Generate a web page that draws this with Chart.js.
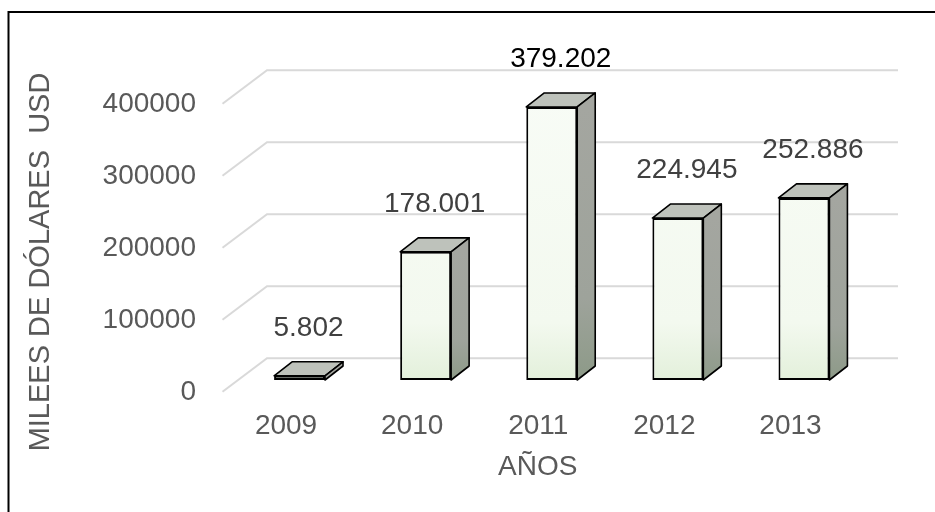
<!DOCTYPE html>
<html lang="es">
<head>
<meta charset="utf-8">
<title>Miles de dólares por año</title>
<script src="https://cdn.jsdelivr.net/npm/chart.js@4.4.1/dist/chart.umd.min.js"></script>
<style>
  html, body { margin: 0; padding: 0; background: #ffffff; }
  #contenedor { position: relative; width: 935px; height: 512px; }
</style>
</head>
<body>
<div id="contenedor"><canvas id="chart-montos"></canvas></div>
<script>
// Datos del gráfico
const anios = ['2009', '2010', '2011', '2012', '2013'];
const montos = [5802, 178001, 379202, 224945, 252886];
const ticksEje = [0, 100000, 200000, 300000, 400000];

// Profundidad del efecto 3D en píxeles
const PROF_X = 18;
const PROF_Y = -14;
const FUENTE = "'Liberation Sans', Arial, sans-serif";
const GRIS_TEXTO = '#595959';

Chart.defaults.font.family = FUENTE;

// 379202 -> "379.202"
function formatoMiles(valor) {
  return String(valor).replace(/\B(?=(\d{3})+(?!\d))/g, '.');
}

// Fondo blanco y marco negro (solo arriba e izquierda quedan dentro)
const fondoYMarco = {
  id: 'fondoYMarco',
  beforeDraw(chart) {
    const ctx = chart.ctx;
    ctx.save();
    ctx.fillStyle = '#ffffff';
    ctx.fillRect(0, 0, chart.width, chart.height);
    ctx.strokeStyle = '#000000';
    ctx.lineWidth = 2;
    ctx.strokeRect(8.5, 12, chart.width + 20, chart.height + 20);
    ctx.restore();
  }
};

// Cuadrícula en la pared del fondo + diagonal del piso, y caras 3D de las barras
const pared3d = {
  id: 'pared3d',
  beforeDatasetsDraw(chart) {
    const ctx = chart.ctx;
    const area = chart.chartArea;
    const ejeY = chart.scales.y;
    ctx.save();

    // líneas de la cuadrícula
    ctx.strokeStyle = '#d9d9d9';
    ctx.lineWidth = 2;
    ejeY.ticks.forEach(t => {
      const y = ejeY.getPixelForValue(t.value);
      const yFondo = y - 21.7;
      const xFondo = area.left + 30.5;
      ctx.beginPath();
      ctx.moveTo(area.left - 14, y + 11.7);
      ctx.lineTo(xFondo, yFondo);
      ctx.lineTo(area.right + 31, yFondo);
      ctx.stroke();
    });

    // caras superior y lateral de cada barra
    ctx.strokeStyle = '#000000';
    ctx.lineWidth = 1.6;
    ctx.lineJoin = 'round';
    chart.getDatasetMeta(0).data.forEach(barra => {
      const izq = barra.x - barra.width / 2;
      const der = barra.x + barra.width / 2;
      const arriba = barra.y;
      const abajo = barra.base;

      ctx.beginPath();
      ctx.moveTo(izq, arriba);
      ctx.lineTo(izq + PROF_X, arriba + PROF_Y);
      ctx.lineTo(der + PROF_X, arriba + PROF_Y);
      ctx.lineTo(der, arriba);
      ctx.closePath();
      ctx.fillStyle = '#bec2bb';
      ctx.fill();
      ctx.stroke();

      const grad = ctx.createLinearGradient(0, arriba, 0, abajo);
      grad.addColorStop(0, '#a4a6a0');
      grad.addColorStop(0.7, '#9ea39b');
      grad.addColorStop(1, '#8d9a88');
      ctx.beginPath();
      ctx.moveTo(der, arriba);
      ctx.lineTo(der + PROF_X, arriba + PROF_Y);
      ctx.lineTo(der + PROF_X, abajo + PROF_Y);
      ctx.lineTo(der, abajo);
      ctx.closePath();
      ctx.fillStyle = grad;
      ctx.fill();
      ctx.stroke();
    });
    ctx.restore();
  }
};

// Etiquetas de valor sobre cada barra
const etiquetasValor = {
  id: 'etiquetasValor',
  afterDatasetsDraw(chart) {
    const ctx = chart.ctx;
    const datos = chart.data.datasets[0].data;
    const maximo = Math.max(...datos);
    ctx.save();
    ctx.font = '28px ' + FUENTE;
    ctx.textAlign = 'center';
    ctx.textBaseline = 'middle';
    chart.getDatasetMeta(0).data.forEach((barra, i) => {
      ctx.fillStyle = datos[i] === maximo ? '#000000' : '#404040';
      ctx.fillText(formatoMiles(datos[i]), barra.x + PROF_X / 2, barra.y - 48);
    });
    ctx.restore();
  }
};

// Títulos de los ejes
const titulosEjes = {
  id: 'titulosEjes',
  afterDraw(chart) {
    const ctx = chart.ctx;
    const area = chart.chartArea;
    ctx.save();
    ctx.fillStyle = GRIS_TEXTO;
    ctx.textAlign = 'center';
    ctx.textBaseline = 'middle';
    ctx.font = '28px ' + FUENTE;
    ctx.fillText('AÑOS', (area.left + area.right) / 2 - 14, area.bottom + 87);
    ctx.translate(41, area.bottom - 118);
    ctx.rotate(-Math.PI / 2);
    ctx.font = '29px ' + FUENTE;
    ctx.fillText('MILEES DE DÓLARES  USD', 0, 0);
    ctx.restore();
  }
};

const ctx = document.getElementById('chart-montos').getContext('2d');
const grafico = new Chart(ctx, {
  type: 'bar',
  data: {
    labels: anios,
    datasets: [{
      label: 'Miles de dólares',
      data: montos,
      backgroundColor: (c) => {
        const area = c.chart.chartArea;
        if (!area) return '#f6fbf3';
        const g = c.chart.ctx.createLinearGradient(0, area.top, 0, area.bottom);
        g.addColorStop(0, '#f8fcf6');
        g.addColorStop(0.8, '#f3f9ef');
        g.addColorStop(1, '#e3f0db');
        return g;
      },
      borderColor: '#000000',
      borderWidth: 2,
      borderSkipped: false,
      categoryPercentage: 1,
      barPercentage: 0.404
    }]
  },
  options: {
    responsive: true,
    maintainAspectRatio: false,
    animation: false,
    layout: {
      padding: { top: 92, right: 68, bottom: 0, left: 10 }
    },
    plugins: {
      legend: { display: false },
      tooltip: { enabled: false },
      title: { display: false }
    },
    scales: {
      x: {
        grid: { display: false, drawTicks: false },
        border: { display: false },
        ticks: {
          color: GRIS_TEXTO,
          font: { size: 28 },
          padding: 29,
          labelOffset: -13.5,
          maxRotation: 0,
          autoSkip: false
        },
        afterFit: (eje) => { eje.height = 132; }
      },
      y: {
        min: ticksEje[0],
        max: ticksEje[ticksEje.length - 1],
        grid: { display: false, drawTicks: false },
        border: { display: false },
        ticks: {
          color: GRIS_TEXTO,
          font: { size: 28 },
          padding: 40.5,
          labelOffset: 12,
          callback: (v) => String(v)
        },
        afterBuildTicks: (eje) => { eje.ticks = ticksEje.map(v => ({ value: v })); },
        afterFit: (eje) => { eje.width = 226.5; }
      }
    }
  },
  plugins: [fondoYMarco, pared3d, etiquetasValor, titulosEjes]
});
</script>
</body>
</html>
